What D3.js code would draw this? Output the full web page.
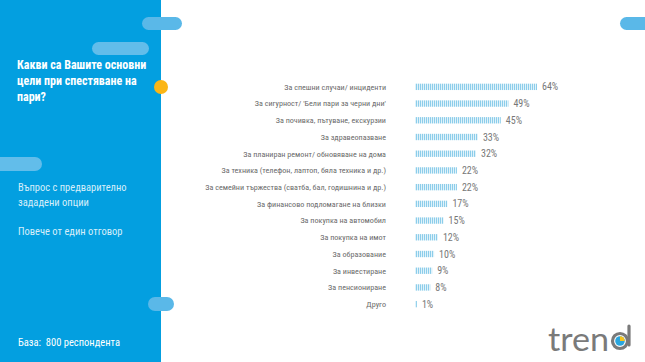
<!DOCTYPE html>
<html><head><meta charset="utf-8">
<script src="https://cdn.jsdelivr.net/npm/d3@7"></script>
<style>body{margin:0;background:#fff;overflow:hidden}svg{display:block}text{white-space:pre}</style>
</head><body>
<svg id="c" width="645" height="362"></svg>
<script>
const categories = [
  "За спешни случаи/ инциденти",
  "За сигурност/ 'Бели пари за черни дни'",
  "За почивка, пътуване, екскурзии",
  "За здравеопазване",
  "За планиран ремонт/ обновяване на дома",
  "За техника (телефон, лаптоп, бяла техника и др.)",
  "За семейни тържества (сватба, бал, годишнина и др.)",
  "За финансово подломагане на близки",
  "За покупка на автомобил",
  "За покупка на имот",
  "За образование",
  "За инвестиране",
  "За пенсиониране",
  "Друго"
];
const values = [64, 49, 45, 33, 32, 22, 22, 17, 15, 12, 10, 9, 8, 1];
const titleLines = ["Какви са Вашите основни", "цели при спестяване на", "пари?"];
const noteLines = ["Въпрос с предварително", "зададени опции"];
const note2 = "Повече от един отговор";
const baseText = "База:  800 респондента";

const svg = d3.select("#c");
const font = "'Liberation Sans Narrow','Roboto Condensed',Roboto,sans-serif";

const defs = svg.append("defs");
const pat = defs.append("pattern").attr("id","stripes").attr("patternUnits","userSpaceOnUse")
  .attr("width",2).attr("height",10);
pat.append("rect").attr("width",2).attr("height",10).attr("fill","#e0f2fa");
pat.append("rect").attr("width",1).attr("height",10).attr("fill","#8ccdea");

// left panel
svg.append("rect").attr("x",0).attr("y",0).attr("width",161).attr("height",362).attr("fill","#039fe0");
const pill = (x,y,w,h,c)=>svg.append("rect").attr("x",x).attr("y",y).attr("width",w).attr("height",h).attr("rx",h/2).attr("fill",c);
pill(142,17,40,13,"#5ab8e8");
pill(92,42,57,13,"#62bdea");
pill(-10,157,52,14,"#62bdea");
pill(148,297,26,14,"#5ab8e8");
pill(620,17,40,13,"#5ab8e8");
svg.append("circle").attr("cx",161).attr("cy",87).attr("r",7).attr("fill","#fbb616");

svg.selectAll("text.title").data(titleLines).join("text").attr("class","title")
  .attr("x",17).attr("y",(d,i)=>69+i*16).attr("fill","#fff").attr("font-family",font)
  .attr("font-weight","bold").attr("font-size",12).text(d=>d);
svg.selectAll("text.note").data(noteLines).join("text").attr("class","note")
  .attr("x",18).attr("y",(d,i)=>191+i*15).attr("fill","#d6eefa").attr("font-family",font)
  .attr("font-size",10.5).text(d=>d);
svg.append("text").attr("x",18).attr("y",235).attr("fill","#d6eefa").attr("font-family",font)
  .attr("font-size",10.5).text(note2);
svg.append("text").attr("x",18).attr("y",346).attr("fill","#fff").attr("font-family",font)
  .attr("font-size",10.5).text(baseText);

// chart
const x = d3.scaleLinear().domain([0,64]).range([415,537]);
const y = d3.scaleBand().domain(categories).range([78.5,312.5]).paddingInner(0.62).paddingOuter(0.31);
const g = svg.append("g");
g.selectAll("rect.bar").data(values).join("rect").attr("class","bar")
  .attr("x",x(0)).attr("y",(d,i)=>y(categories[i]))
  .attr("width",d=>x(d)-x(0)).attr("height",y.bandwidth()).attr("fill","url(#stripes)");
g.selectAll("text.cat").data(categories).join("text").attr("class","cat")
  .attr("x",386).attr("y",d=>y(d)+y.bandwidth()/2).attr("dy","0.35em").attr("text-anchor","end")
  .attr("fill","#6a6a6a").attr("font-family",font).attr("font-size",8.1).text(d=>d);
g.selectAll("text.val").data(values).join("text").attr("class","val")
  .attr("x",d=>x(d)+5).attr("y",(d,i)=>y(categories[i])+y.bandwidth()/2).attr("dy","0.35em")
  .attr("fill","#777").attr("font-family",font).attr("font-size",10).text(d=>d+"%");

// logo
const logo = svg.append("g");
logo.append("text").attr("x",548).attr("y",351).attr("fill","#7a7a7a").attr("font-family","Lato,'Open Sans',sans-serif")
  .attr("font-size",32).attr("textLength",61).attr("lengthAdjust","spacingAndGlyphs").text("tren");
logo.append("circle").attr("cx",620).attr("cy",341).attr("r",7.5).attr("fill","none").attr("stroke","#7a7a7a").attr("stroke-width",3.2);
logo.append("line").attr("x1",629).attr("x2",629).attr("y1",326).attr("y2",345).attr("stroke","#7a7a7a").attr("stroke-width",3.2).attr("stroke-linecap","round");
logo.append("circle").attr("cx",620).attr("cy",341).attr("r",4.8).attr("fill","#2aa6de");
logo.append("path").attr("d",d3.arc()({innerRadius:0,outerRadius:4.8,startAngle:0,endAngle:Math.PI/2})).attr("transform","translate(620,341)").attr("fill","#f7c21b");
</script>
</body></html>
